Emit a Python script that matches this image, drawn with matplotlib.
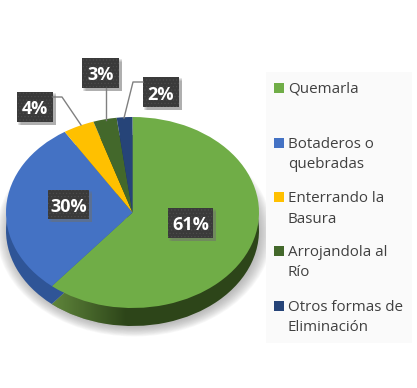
import matplotlib
matplotlib.use("Agg")
import matplotlib.pyplot as plt
import numpy as np
from matplotlib.patches import Ellipse, Rectangle

plt.rcParams['hatch.linewidth'] = 0.4

# data
categories = ['Quemarla', 'Botaderos o\nquebradas', 'Enterrando la\nBasura',
              'Arrojandola al\nRío', 'Otros formas de\nEliminación']
values = [61, 30, 4, 3, 2]
colors = ['#70ad47', '#4472c4', '#ffc000', '#43682b', '#264478']
side_colors = ['#2d4519', '#2f5597', '#b38600', '#2d451d', '#1a2f54']

# label boxes in pixels: left, top, width, height
label_boxes = [(168, 208, 45, 30), (48, 190, 41, 29), (17, 92, 36, 30),
               (82, 58, 37, 30), (143, 77, 36, 30)]
leaders = [([53, 62, 81], [97, 97, 125]),
           ([106, 106], [88, 120]),
           ([143, 133, 124], [82, 82, 118])]
legend_text_y = [89, 154.5, 209, 262.5, 317.5]
legend_mark_y = [88, 143, 197, 251, 306]

W, H = 417, 388
cx, cy, rx, ry, depth = 132.5, 212.5, 126.5, 95.5, 18

fig = plt.figure(figsize=(W / 100, H / 100), dpi=100)

# pie axes, stretched so that the circle comes out as an ellipse
ax = fig.add_axes([(cx - 1.25 * rx) / W, 1 - (cy + 1.25 * ry) / H,
                   2.5 * rx / W, 2.5 * ry / H])
ax.patch.set_alpha(0)

d = depth / ry
for i in range(14):
    grow = 1.09 - i * 0.008
    ax.add_patch(Ellipse((0.015, -d - 0.02), 2 * grow, 2 * grow, fc='#8c8c8c',
                         ec='none', alpha=0.055, clip_on=False))

side, _ = ax.pie(values, colors=side_colors, startangle=90, counterclock=False,
                 center=(0, -d), radius=1)
for w in side:
    w.set_clip_on(False)

# lighter left end of the green side
g = np.zeros((1, 120, 4))
g[..., :3] = (0.55, 0.75, 0.35)
g[..., 3] = np.linspace(0.55, 0, 120)
im = ax.imshow(g, extent=(-0.66, -0.05, -1.3, -0.6), aspect='auto', zorder=1.5)
im.set_clip_path(side[0])

top, _ = ax.pie(values, colors=colors, startangle=90, counterclock=False, radius=1)
for w in top:
    w.set_zorder(2)
ax.set_aspect('auto')
ax.set_xlim(-1.25, 1.25)
ax.set_ylim(-1.25, 1.25)
ax.set_axis_off()

# overlay in pixel coordinates
ov = fig.add_axes([0, 0, 1, 1])
ov.set_xlim(0, W)
ov.set_ylim(H, 0)
ov.patch.set_alpha(0)
ov.set_axis_off()

for xs, ys in leaders:
    ov.plot(xs, ys, color='#808080', lw=1)

for (x, y, w, h), v in zip(label_boxes, values):
    for s in range(4):
        ov.add_patch(Rectangle((x + 1 + s, y + 1 + s), w + 2 - s, h + 2 - s, fc='#707070',
                               ec='none', alpha=0.18))
    ov.add_patch(Rectangle((x, y), w, h, fc='#3a3a3a', ec='#4e4e4e', lw=0, hatch='.....'))
    ov.text(x + w / 2, y + h / 2 + 0.5, f'{v}%', color='white', ha='center',
            va='center_baseline', fontsize=13, fontweight='bold', family='Open Sans')

# legend
ov.add_patch(Rectangle((266, 72), 146, 271, fc='#fafafa', ec='none'))
for cat, col, ty, my in zip(categories, colors, legend_text_y, legend_mark_y):
    ov.add_patch(Rectangle((274, my - 5), 10, 10, fc=col, ec='none'))
    ov.text(288, ty, cat, color='#404040', ha='left', va='center', fontsize=10.9,
            family='Open Sans', linespacing=1.5)

fig.savefig('out.png', dpi=100)
plt.close(fig)
